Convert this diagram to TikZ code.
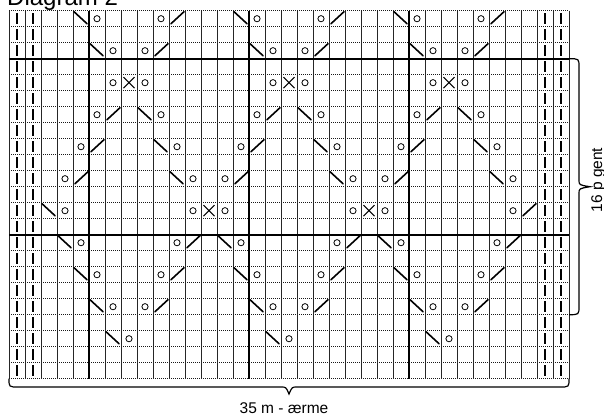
\documentclass[tikz,border=0pt]{standalone}
\usepackage{fontspec}
\setmainfont{Liberation Sans}
\tikzset{
  vline/.style={black!85, line width=0.7pt},
  hline/.style={black!90, line width=0.75pt, dash pattern=on 1pt off 1pt},
  thickline/.style={black, line width=1.7pt},
  sym/.style={black, line width=1.6pt, line cap=round},
  bracestyle/.style={black, line width=1.2pt},
  lbl/.style={inner sep=0pt, font=\fontsize{15.5}{18}\selectfont},
  yo/.pic={\draw[black, line width=0.8pt] (0,0) circle (3.1pt);},
  lk/.pic={\draw[sym] (-7,-7) -- (6,5);},
  rk/.pic={\draw[sym] (-6,5) -- (7,-7);},
  dx/.pic={\draw[black, line width=1.1pt] (-5.5,-5.5) -- (5.5,5.5) (-5.5,5.5) -- (5.5,-5.5);},
  pb/.pic={\draw[black, line width=1.8pt] (0,-5.5) -- (0,5.5);}
}
\newcommand\st[3]{\pic at ({16*(#1)+1},{16*(#2)+2.7}) {#3};}
\begin{document}
\begin{tikzpicture}[x=1pt, y=-1pt]
\useasboundingbox (0,0) rectangle (604,416);
\clip (0,0) rectangle (604,416);
\fill[white] (0,0) rectangle (604,416);
% title (cut off at top)
\node[inner sep=0pt, anchor=base west, font=\fontsize{24}{28}\selectfont] (title) at (7,5) {Diagram 2};
% grid
\foreach \j in {0,...,23} \draw[hline] (9,{10.7+16*\j}) -- (569,{10.7+16*\j});
\foreach \i in {0,...,35} \draw[vline] ({9+16*\i},10.7) -- ({9+16*\i},378.7);
\foreach \i in {5,15,25} \draw[thickline] ({9+16*\i},10.7) -- ({9+16*\i},378.7);
\foreach \j in {3,14} \draw[thickline] (9,{10.7+16*\j}) -- (569,{10.7+16*\j});
% purl edge stitches
\foreach \r in {1,...,23} {
  \st{1}{\r}{pb} \st{2}{\r}{pb} \st{34}{\r}{pb} \st{35}{\r}{pb}
}
% repeated rows
\foreach \k in {0,10,20} {
  \foreach \r in {1,17} {
    \st{\k+5}{\r}{lk} \st{\k+6}{\r}{yo} \st{\k+10}{\r}{yo} \st{\k+11}{\r}{rk}
  }
  \foreach \r in {3,19} {
    \st{\k+6}{\r}{lk} \st{\k+7}{\r}{yo} \st{\k+9}{\r}{yo} \st{\k+10}{\r}{rk}
  }
  \st{\k+7}{5}{yo} \st{\k+8}{5}{dx} \st{\k+9}{5}{yo}
  \st{\k+6}{7}{yo} \st{\k+7}{7}{rk} \st{\k+9}{7}{lk} \st{\k+10}{7}{yo}
  \st{\k+5}{9}{yo} \st{\k+6}{9}{rk} \st{\k+10}{9}{lk} \st{\k+11}{9}{yo}
  \st{\k+4}{11}{yo} \st{\k+5}{11}{rk} \st{\k+11}{11}{lk} \st{\k+12}{11}{yo}
  \st{\k+4}{15}{lk} \st{\k+5}{15}{yo} \st{\k+11}{15}{yo} \st{\k+12}{15}{rk}
  \st{\k+7}{21}{lk} \st{\k+8}{21}{yo}
}
% row 13
\st{3}{13}{lk} \st{4}{13}{yo}
\foreach \k in {0,10} {
  \st{\k+12}{13}{yo} \st{\k+13}{13}{dx} \st{\k+14}{13}{yo}
}
\st{32}{13}{yo} \st{33}{13}{rk}
% right brace
\coordinate (rb1) at (569,58.7);
\coordinate (rb2) at (569,314.7);
\draw[bracestyle] (rb1) .. controls (579,58.7) .. (579,67) -- (579,180)
  .. controls (579,185) .. (590,186.7) .. controls (579,188.5) .. (579,193.5)
  -- (579,306) .. controls (579,314.7) .. (rb2);
\node[lbl, rotate=90, anchor=base] (rep) at (602,180) {16 p gent};
% bottom brace
\coordinate (bb1) at (9,378.7);
\coordinate (bb2) at (569,378.7);
\draw[bracestyle] (bb1) .. controls (9,387) .. (18,387) -- (281,387)
  .. controls (286,387) .. (289,394) .. controls (292,387) .. (297,387)
  -- (560,387) .. controls (569,387) .. (bb2);
\node[lbl, anchor=base] (width) at (284,413) {35 m - ærme};
\end{tikzpicture}
\end{document}
